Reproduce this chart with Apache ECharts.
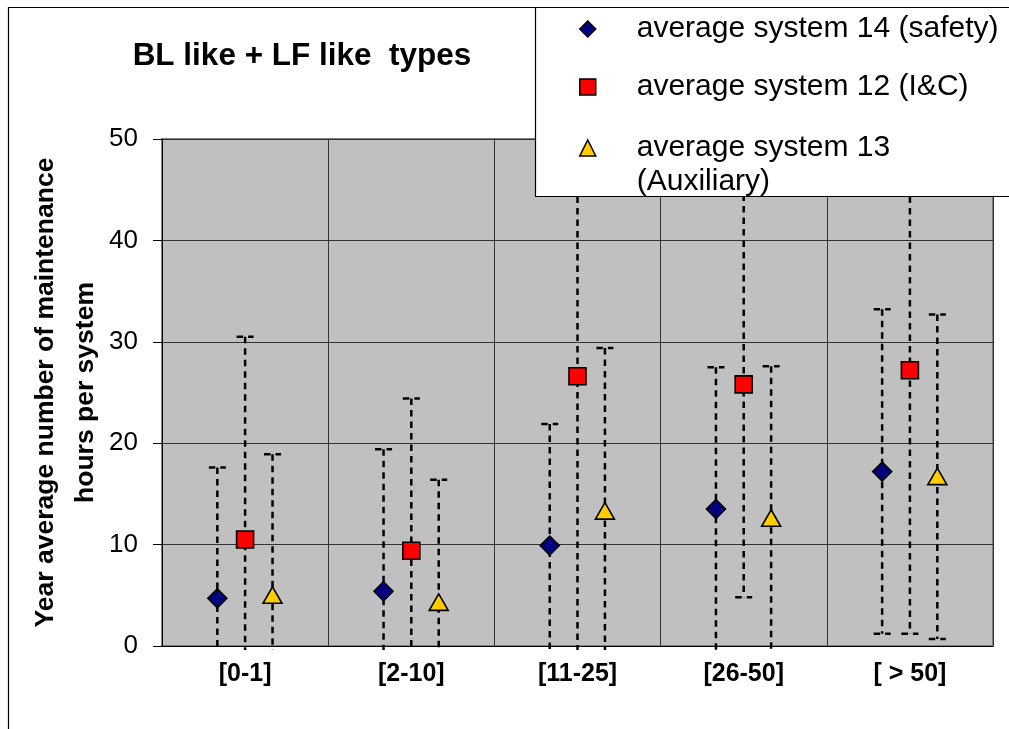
<!DOCTYPE html>
<html>
<head>
<meta charset="utf-8">
<script src="https://cdn.jsdelivr.net/npm/echarts@6/dist/echarts.min.js"></script>
<style>
  html, body { margin: 0; padding: 0; background: #fff; }
  #chart { width: 1009px; height: 729px; }
</style>
</head>
<body>
<div id="chart"></div>
<script>
// ---- data ----
const categories = ['[0-1]', '[2-10]', '[11-25]', '[26-50]', '[ > 50]'];
const yTicks = [0, 10, 20, 30, 40, 50];

const safetyName = 'average system 14 (safety)';
const safetyMean = [4.7, 5.4, 9.9, 13.5, 17.2];
const safetyErr  = [12.9, 14.0, 12.0, 14.0, 16.0];

const icName = 'average system 12 (I&C)';
const icMean = [10.5, 9.4, 26.6, 25.8, 27.2];
const icErr  = [20.0, 15.0, 27.0, 21.0, 26.0];

const auxName = 'average system 13\n(Auxiliary)';
const auxMean = [5.0, 4.3, 13.3, 12.6, 16.7];
const auxErr  = [13.9, 12.1, 16.1, 15.0, 16.0];

// ---- style ----
const FONT = '"Liberation Sans", Arial, sans-serif';
const DASH = { stroke: '#000', lineWidth: 2.5, lineDash: [6.5, 5], fill: null };

function buildData(means, errs) {
  return means.map((m, i) => [i, m, errs[i]]);
}

function markerShape(shape, x, y, color) {
  const st = { fill: color, stroke: '#000', lineWidth: 1.6 };
  if (shape === 'diamond') {
    return { type: 'polygon', shape: { points: [[x, y - 9.5], [x + 9.5, y], [x, y + 9.5], [x - 9.5, y]] }, style: st };
  }
  if (shape === 'rect') {
    return { type: 'rect', shape: { x: x - 8.5, y: y - 8.5, width: 17, height: 17 }, style: st };
  }
  return { type: 'polygon', shape: { points: [[x, y - 8.5], [x + 9.5, y + 8], [x - 9.5, y + 8]] }, style: st };
}

function makeRender(shape, offsetFrac, color) {
  return function (params, api) {
    const i = api.value(0), m = api.value(1), e = api.value(2);
    const c = api.coord([i, m]);
    const band = api.size([1, 0])[0];
    const x = c[0] + band * offsetFrac;
    const y = c[1];
    const top = params.coordSys.y;
    const bottom = params.coordSys.y + params.coordSys.height + 4;
    let yHi = api.coord([i, m + e])[1];
    let yLo = api.coord([i, m - e])[1];
    const children = [];
    const hiClip = yHi < top, loClip = yLo > bottom;
    if (hiClip) yHi = top;
    if (loClip) yLo = bottom;
    children.push({ type: 'line', shape: { x1: x, y1: yHi, x2: x, y2: yLo }, style: DASH });
    if (!hiClip) children.push({ type: 'line', shape: { x1: x - 8.5, y1: yHi, x2: x + 8.5, y2: yHi }, style: DASH });
    if (!loClip) children.push({ type: 'line', shape: { x1: x - 8.5, y1: yLo, x2: x + 8.5, y2: yLo }, style: DASH });
    children.push(markerShape(shape, x, y, color));
    return { type: 'group', children: children };
  };
}

const seriesDefs = [
  { name: safetyName, mean: safetyMean, err: safetyErr, shape: 'diamond', icon: 'diamond', color: '#000080', off: -0.167 },
  { name: icName, mean: icMean, err: icErr, shape: 'rect', icon: 'rect', color: '#FF0000', off: 0 },
  { name: auxName, mean: auxMean, err: auxErr, shape: 'triangle', icon: 'triangle', color: '#FFCC00', off: 0.165 }
];

const legendTops = [12, 70, 97];
const legends = seriesDefs.map((s, k) => ({
  data: [{ name: s.name, icon: s.icon, itemStyle: { color: s.color, borderColor: '#000', borderWidth: 1.5 } }],
  left: 579,
  top: legendTops[k],
  orient: 'vertical',
  padding: 0,
  itemWidth: 16,
  itemHeight: 16,
  selectedMode: false,
  z: 20,
  formatter: k === 2 ? (n => '\n' + n) : (n => n),
  textStyle: {
    fontFamily: FONT, fontSize: 30, color: '#000', lineHeight: 34,
    padding: [0, 0, 0, 36]
  }
}));

const chart = echarts.init(document.getElementById('chart'), null, { renderer: 'canvas' });
chart.setOption({
  animation: false,
  backgroundColor: '#fff',
  title: {
    text: 'BL like + LF like  types',
    left: 297,
    textAlign: 'center',
    top: 33,
    textStyle: { fontFamily: FONT, fontSize: 31.5, fontWeight: 'bold', color: '#000', lineHeight: 36 }
  },
  legend: legends,
  grid: {
    left: 162, top: 139, width: 831, height: 507,
    show: true, backgroundColor: '#C0C0C0', borderColor: '#808080', borderWidth: 2
  },
  xAxis: {
    type: 'category',
    data: categories,
    boundaryGap: true,
    axisLine: { show: true, lineStyle: { color: '#000', width: 1 } },
    axisTick: { show: false },
    splitLine: { show: true, interval: 0, lineStyle: { color: '#333', width: 1 } },
    axisLabel: { interval: 0, margin: 14, fontFamily: FONT, fontSize: 25, fontWeight: 'bold', color: '#000', lineHeight: 28 }
  },
  yAxis: {
    type: 'value',
    min: yTicks[0], max: yTicks[yTicks.length - 1], interval: yTicks[1] - yTicks[0],
    name: 'Year average number of maintenance\nhours per system',
    nameLocation: 'middle',
    nameRotate: 90,
    nameGap: 56,
    nameMoveOverlap: false,
    nameTextStyle: { fontFamily: FONT, fontSize: 26.5, fontWeight: 'bold', color: '#000', lineHeight: 40 },
    axisLine: { show: true, lineStyle: { color: '#000', width: 1 } },
    axisTick: { show: true, length: 9, lineStyle: { color: '#000' } },
    splitLine: { show: true, lineStyle: { color: '#333', width: 1 } },
    axisLabel: { margin: 24, fontFamily: FONT, fontSize: 26, color: '#000' }
  },
  graphic: [
    { type: 'polyline', z: 5, silent: true, shape: { points: [[8.5, 729], [8.5, 7.5], [536, 7.5]] }, style: { stroke: '#000', lineWidth: 1.2, fill: null } },
    { type: 'rect', z: 10, silent: true, shape: { x: 535.5, y: 7.5, width: 520, height: 189 }, style: { fill: '#fff', stroke: '#000', lineWidth: 1.2 } }
  ],
  series: seriesDefs.map(s => ({
    type: 'custom',
    name: s.name,
    clip: false,
    itemStyle: { color: s.color, borderColor: '#000' },
    encode: { x: 0, y: 1 },
    renderItem: makeRender(s.shape, s.off, s.color),
    data: buildData(s.mean, s.err),
    z: 2
  }))
});
</script>
</body>
</html>
